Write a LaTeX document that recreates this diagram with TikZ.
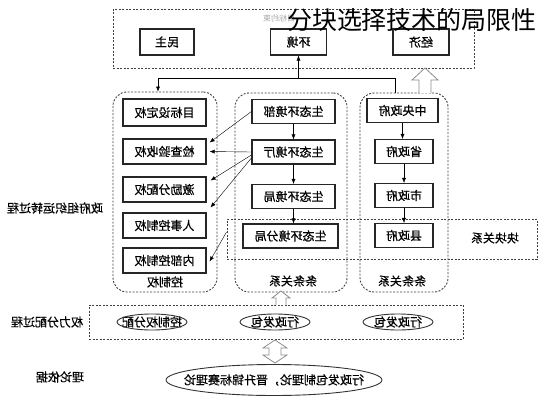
\documentclass[tikz,border=0pt]{standalone}
\usepackage{fontspec}
\usepackage{graphicx}
\setmainfont{Noto Sans CJK SC}
\newfontfamily\boxfont[FakeBold=0.6]{Noto Sans CJK SC}
\usetikzlibrary{arrows.meta,calc}
\newcommand{\mirtxt}[1]{\reflectbox{#1}}

\begin{document}
\begin{tikzpicture}[x=1pt,y=-1pt,
	font=\boxfont\fontsize{12}{14}\selectfont,
	box node/.style={draw=black!85,line width=1.2pt,minimum height=24pt,inner sep=0pt},
	group node/.style={draw=black!75,dash pattern=on 2pt off 1.5pt,line width=0.9pt,rounded corners=14pt},
	zone node/.style={draw=black!75,dash pattern=on 2pt off 1.5pt,line width=0.9pt},
	arr/.style={-{Latex[length=5pt,width=4pt]}},
	hollow/.style={draw=black!45,fill=white,line width=0.8pt}
]

	\useasboundingbox (0,0) rectangle (542,400);

	\node[zone node,minimum width=361pt,minimum height=59pt] (goalbox) at (293.5,38.5) {};
	\node[text=black!35,font=\fontsize{8}{9}\selectfont] (goallbl) at (279,18) {\mirtxt{目标约束}};
	\node[box node,minimum width=54pt,minimum height=26pt] (dem) at (167,42) {\mirtxt{民主}};
	\node[box node,minimum width=56pt,minimum height=26pt] (env) at (298.5,42) {\mirtxt{环境}};
	\node[box node,minimum width=56pt,minimum height=26pt] (eco) at (421,42) {\mirtxt{经济}};

	\node[group node,minimum width=104pt,minimum height=200pt] (lgrp) at (165,192) {};
	\node[group node,minimum width=112pt,minimum height=199pt] (mgrp) at (291,192.5) {};
	\node[group node,minimum width=88pt,minimum height=199pt] (rgrp) at (404,192.5) {};
	\node[zone node,minimum width=310pt,minimum height=40pt] (blk) at (382,239) {};

	\node (lgrplbl) at (165,282) {\mirtxt{控制权}};
	\node (mgrplbl) at (293,281) {\mirtxt{条条关系}};
	\node (rgrplbl) at (402,281) {\mirtxt{条条关系}};
	\node (blklbl) at (495,238) {\mirtxt{块块关系}};

	\node[box node,minimum width=83pt,minimum height=27pt] (l1) at (164.5,112.5) {\mirtxt{目标设定权}};
	\node[box node,minimum width=83pt,minimum height=25pt] (l2) at (164.5,151.5) {\mirtxt{检查验收权}};
	\node[box node,minimum width=83pt,minimum height=25pt] (l3) at (164.5,189.5) {\mirtxt{激励分配权}};
	\node[box node,minimum width=83pt,minimum height=25pt] (l4) at (164.5,225.5) {\mirtxt{人事控制权}};
	\node[box node,minimum width=83pt,minimum height=25pt] (l5) at (164.5,260.5) {\mirtxt{内部控制权}};

	\node[box node,minimum width=83pt] (m1) at (293.5,111.5) {\mirtxt{生态环境部}};
	\node[box node,minimum width=83pt] (m2) at (293.5,152) {\mirtxt{生态环境厅}};
	\node[box node,minimum width=83pt] (m3) at (293.5,196.5) {\mirtxt{生态环境局}};
	\node[box node,minimum width=95pt] (m4) at (290.5,236) {\mirtxt{生态环境分局}};

	\node[box node,minimum width=71pt] (r1) at (402.5,110.5) {\mirtxt{中央政府}};
	\node[box node,minimum width=58pt] (r2) at (404,151.5) {\mirtxt{省政府}};
	\node[box node,minimum width=58pt] (r3) at (404,195.5) {\mirtxt{市政府}};
	\node[box node,minimum width=58pt] (r4) at (404,235.5) {\mirtxt{县政府}};

	\foreach \a/\b in {m1/m2,m2/m3,m3/m4,r1/r2,r2/r3,r3/r4}
		\draw[arr] (\a.south) -- (\a.south |- \b.north);

	\draw[arr] (m1.west) -- ($(l2.east)+(3,-9)$);
	\draw[arr] (m2.west) -- ($(l2.east)+(3,0)$);
	\draw[arr] ($(m2.west)+(0,3)$) -- ($(l3.east)+(4,-9)$);
	\draw[arr] ($(m2.west)+(0,6)$) -- ($(l4.east)+(4,-18)$);
	\draw[arr] ($(blk.west)+(0,-7)$) -- ($(l5.east)+(3,1)$);

	\coordinate (jL) at (158,78);
	\coordinate (jR) at (395,78);
	\draw (rgrp.north -| jR) -- (jR);
	\draw[arr] (jR) -- (jL) -- (jL |- lgrp.north);
	\draw[arr] (env.south |- jL) -- (env.south);
	\draw[hollow] (419,93) -- (419,80) -- (412,80) -- (425,68) -- (438,80) -- (431,80) -- (431,93);

	\node[zone node,minimum width=374pt,minimum height=34pt] (pwr) at (276,322) {};
	\node (e1) at (152,322) {\mirtxt{控制权分配}};
	\node (e2) at (275,322) {\mirtxt{行政发包}};
	\node (e3) at (398,322) {\mirtxt{行政发包}};
	\foreach \e in {e1,e2,e3}
		\draw[black!80,line width=0.9pt] (\e.center) ellipse [x radius=35pt,y radius=8pt];
	\draw[hollow] (276,305) -- (276,298) -- (272,298) -- (281,291) -- (290,298) -- (286,298) -- (286,305);
	\draw[hollow] (275,340) -- (287,348) -- (281,348) -- (281,355) -- (287,355) -- (275,363)
		-- (263,355) -- (269,355) -- (269,348) -- (263,348) -- cycle;

	\node (theory) at (274,380) {\mirtxt{行政发包制理论，晋升锦标赛理论}};
	\draw[black!80,line width=0.9pt] (theory.center) ellipse [x radius=108pt,y radius=15.5pt];

	\node (lblrun) at (55,208) {\mirtxt{政府组织运转过程}};
	\node (lblpwr) at (47,322) {\mirtxt{权力分配过程}};
	\node (lblthy) at (60,377) {\mirtxt{理论依据}};

	\node[font=\rmfamily\fontsize{25}{27}\selectfont] (title) at (412,20) {分块选择技术的局限性};
\end{tikzpicture}
\end{document}
